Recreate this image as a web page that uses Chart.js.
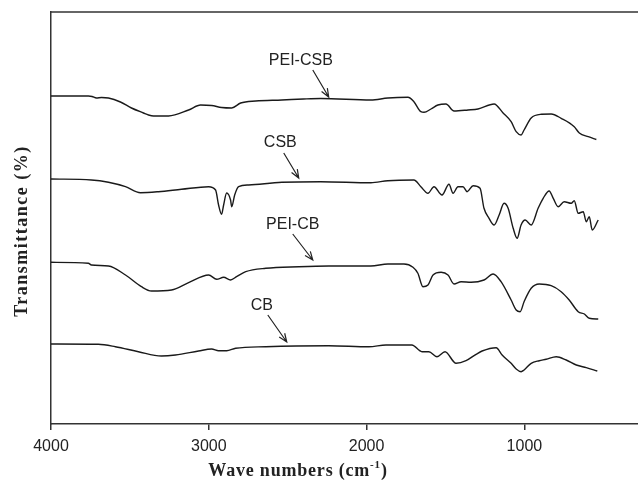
<!DOCTYPE html>
<html>
<head>
<meta charset="utf-8">
<script src="https://cdn.jsdelivr.net/npm/chart.js@4.4.0/dist/chart.umd.min.js"></script>
<style>
html, body { margin: 0; padding: 0; background: #fff; overflow: hidden; }
</style>
</head>
<body>
<canvas id="myChart" width="638" height="487"></canvas>
<script>
// wave numbers (cm-1) and stacked transmittance (arbitrary offset units)
const pcsbX = [4000, 3763, 3740, 3712, 3680, 3636, 3560, 3490, 3414, 3382, 3350, 3255, 3128, 3052, 2982, 2919, 2855, 2798, 2703, 2537, 2400, 2290,
  1973, 1865, 1738, 1700, 1656, 1636, 1592, 1548, 1497, 1446, 1357, 1294, 1192, 1135, 1084, 1052, 1021, 1002, 957, 894, 830, 767, 684, 652, 595, 544];
const pcsbY = [328, 328, 327.5, 326, 326.5, 326, 322, 316, 311, 309, 308, 308, 314, 319, 318.5, 316.5, 316, 321, 323, 324, 325, 325.5,
  324, 326, 326.7, 322.3, 312.3, 311.7, 315, 319, 320, 313, 314, 315, 320, 311, 302.3, 292.3, 289, 294, 306, 309.7, 310, 305.7, 297.3, 291, 287.3, 284.5];

const csbX = [4000, 3744, 3636, 3528, 3433, 3319, 3173, 3001, 2957, 2938, 2919, 2906, 2887, 2862, 2855, 2836, 2811, 2747, 2537, 2290,
  1973, 1865, 1700, 1656, 1611, 1573, 1522, 1478, 1452, 1421, 1389, 1363, 1325, 1281, 1256, 1224, 1192, 1160, 1129, 1103, 1071, 1046,
  1021, 995, 957, 913, 881, 843, 817, 786, 748, 703, 684, 659, 627, 608, 589, 570, 532];
const csbY = [245, 244, 241.7, 237.3, 231.3, 232.3, 234.7, 237.3, 234, 219, 209.7, 219, 231, 224, 217.3, 229, 237.3, 239, 241.7, 242.3,
  241.3, 243.3, 244, 237.3, 230.7, 237.3, 229, 239.7, 230.7, 237.3, 237.3, 232.3, 238.3, 235.7, 215.7, 205.7, 199, 209, 220.7, 215.7, 195.7, 185.7,
  199, 204, 199, 215.7, 225.7, 233, 225.7, 217.3, 222.3, 220.7, 223.3, 210.7, 212.3, 202.3, 207.3, 194, 204];

const pcbX = [4000, 3763, 3744, 3636, 3528, 3427, 3363, 3236, 3128, 3001, 2950, 2906, 2862, 2824, 2766, 2639, 2430, 2240,
  1973, 1865, 1763, 1706, 1675, 1643, 1611, 1579, 1528, 1484, 1446, 1401, 1338, 1256, 1198, 1148, 1084, 1052, 1027, 1002,
  957, 906, 830, 767, 716, 659, 620, 589, 532];
const pcbY = [161.7, 160.7, 159, 158, 149, 137.3, 133, 134, 141.3, 149, 144.7, 146.7, 144, 147.3, 152.3, 155.7, 157.3, 158,
  158, 160, 160, 156.7, 150.7, 137.3, 139, 149, 151.7, 149, 140, 142.3, 141.7, 144, 150, 142.3, 124, 114, 112.3, 122.3,
  135.7, 140, 138.3, 132.3, 124, 112.3, 110, 105.7, 105];

const cbX = [4000, 3700, 3592, 3446, 3300, 3211, 3065, 2982, 2938, 2887, 2830, 2639, 2240, 1985, 1877, 1713, 1649, 1605, 1554, 1503,
  1433, 1370, 1306, 1268, 1179, 1141, 1084, 1052, 1021, 1002, 957, 906, 862, 798, 735, 671, 608, 538];
const cbY = [80, 79.7, 77.3, 72.3, 68, 69, 73, 75, 73.3, 73.3, 75.7, 77.3, 78.3, 77.3, 79, 79, 72.3, 72.3, 67.3, 72.3,
  60.7, 63.3, 69.7, 73, 76.3, 69, 60.7, 55, 52.3, 54, 60.7, 63.3, 64.7, 67.3, 64, 59, 56.3, 53];

const xTicks = [4000, 3000, 2000, 1000];
const seriesNames = ['PEI-CSB', 'CSB', 'PEI-CB', 'CB'];

// label text position and arrow (from -> to), in data units
const notes = [
  { text: 'PEI-CSB', tx: 2417, ty: 363, x1: 2341, y1: 354, x2: 2240, y2: 327 },
  { text: 'CSB', tx: 2547, ty: 281.5, x1: 2525, y1: 271, x2: 2430, y2: 246 },
  { text: 'PEI-CB', tx: 2468, ty: 199, x1: 2468, y1: 190, x2: 2341, y2: 164 },
  { text: 'CB', tx: 2664, ty: 118, x1: 2626, y1: 109, x2: 2506, y2: 82 }
];

const axisColor = '#333';
const lineColor = '#1a1a1a';

const toPoints = (xs, ys) => xs.map((v, i) => ({ x: v, y: ys[i] }));

const decor = {
  id: 'decor',
  afterDraw(chart) {
    const { ctx, chartArea: a, scales: { x, y } } = chart;
    ctx.save();
    // top frame
    ctx.strokeStyle = axisColor;
    ctx.lineWidth = 1.5;
    ctx.beginPath();
    ctx.moveTo(a.left, a.top);
    ctx.lineTo(a.right, a.top);
    ctx.stroke();

    // curve labels with arrows
    ctx.font = '16px "Liberation Sans", Arial, sans-serif';
    ctx.fillStyle = '#222';
    ctx.textAlign = 'center';
    ctx.textBaseline = 'middle';
    ctx.strokeStyle = '#222';
    ctx.lineWidth = 1.2;
    notes.forEach(n => {
      ctx.fillText(n.text, x.getPixelForValue(n.tx), y.getPixelForValue(n.ty));
      const x1 = x.getPixelForValue(n.x1), y1 = y.getPixelForValue(n.y1);
      const x2 = x.getPixelForValue(n.x2), y2 = y.getPixelForValue(n.y2);
      const ang = Math.atan2(y2 - y1, x2 - x1);
      ctx.beginPath();
      ctx.moveTo(x1, y1);
      ctx.lineTo(x2, y2);
      ctx.moveTo(x2 - 9 * Math.cos(ang - 0.38), y2 - 9 * Math.sin(ang - 0.38));
      ctx.lineTo(x2, y2);
      ctx.lineTo(x2 - 9 * Math.cos(ang + 0.38), y2 - 9 * Math.sin(ang + 0.38));
      ctx.stroke();
    });

    // axis titles
    ctx.fillStyle = '#222';
    ctx.textBaseline = 'alphabetic';
    ctx.textAlign = 'left';
    const big = 'bold 18px "Liberation Serif", "Times New Roman", serif';
    const small = 'bold 11px "Liberation Serif", "Times New Roman", serif';

    ctx.font = big;
    ctx.letterSpacing = '0.8px';
    const p1 = 'Wave numbers (cm', p3 = ')';
    const w1 = ctx.measureText(p1).width, w3 = ctx.measureText(p3).width;
    ctx.font = small;
    const p2 = '-1';
    const w2 = ctx.measureText(p2).width;
    let tx = a.left + 247 - (w1 + w2 + w3) / 2;
    const by = 476;
    ctx.font = big;
    ctx.fillText(p1, tx, by);
    ctx.font = small;
    ctx.fillText(p2, tx + w1, by - 8);
    ctx.font = big;
    ctx.fillText(p3, tx + w1 + w2, by);

    ctx.translate(27, 231);
    ctx.rotate(-Math.PI / 2);
    ctx.textAlign = 'center';
    ctx.letterSpacing = '1.5px';
    ctx.font = big;
    ctx.fillText('Transmittance (%)', 0, 0);
    ctx.restore();
  }
};

const datasets = [[pcsbX, pcsbY], [csbX, csbY], [pcbX, pcbY], [cbX, cbY]].map((s, i) => ({
  label: seriesNames[i],
  data: toPoints(s[0], s[1]),
  borderColor: lineColor,
  borderWidth: 1.4,
  pointRadius: 0,
  fill: false,
  cubicInterpolationMode: 'monotone'
}));

new Chart(document.getElementById('myChart'), {
  type: 'line',
  data: { datasets },
  options: {
    responsive: false,
    animation: false,
    layout: { padding: { top: 12, right: 0, left: 0, bottom: 0 } },
    plugins: { legend: { display: false }, tooltip: { enabled: false } },
    scales: {
      x: {
        type: 'linear',
        reverse: true,
        min: 280,
        max: 4000,
        afterBuildTicks: s => { s.ticks = xTicks.map(v => ({ value: v })); },
        afterFit: s => { s.height = 63; },
        grid: { drawOnChartArea: false, drawTicks: true, tickLength: 6, color: axisColor, lineWidth: 1.5 },
        border: { display: true, color: axisColor, width: 1.5 },
        ticks: {
          color: '#222', padding: 7, maxRotation: 0,
          font: { family: '"Liberation Sans", Arial, sans-serif', size: 16 },
          callback: v => String(v)
        }
      },
      y: {
        min: 0,
        max: 412,
        afterFit: s => { s.width = 51; },
        grid: { display: false },
        border: { display: true, color: axisColor, width: 1.5 },
        ticks: { display: false }
      }
    }
  },
  plugins: [decor]
});
</script>
</body>
</html>
